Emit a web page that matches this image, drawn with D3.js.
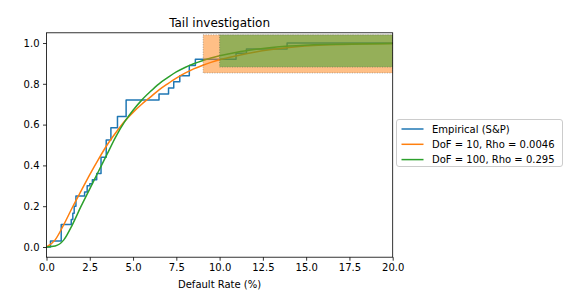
<!DOCTYPE html>
<html><head><meta charset="utf-8">
<script src="https://cdn.jsdelivr.net/npm/d3@7"></script>
<style>body{margin:0;background:#fff}</style>
</head><body><svg id="c" width="570" height="290"></svg>
<script>
// ---- data ----
const empX = [0, 0.23, 0.85, 1.43, 1.52, 1.6, 1.7, 2.2, 2.35, 2.5, 2.65, 2.9, 3.15, 3.45, 3.72, 4.1, 4.6, 6.5, 7.05, 7.35, 7.7, 8.25, 8.6, 10.95, 11.55, 13.9, 20];
const empY = [0, 0.03, 0.11, 0.135, 0.165, 0.2, 0.25, 0.27, 0.3, 0.31, 0.33, 0.36, 0.44, 0.525, 0.585, 0.64, 0.72, 0.75, 0.78, 0.81, 0.84, 0.89, 0.92, 0.95, 0.97, 1.0, 1.0];

const orX = [0, 0.5, 1, 1.5, 2, 2.5, 3, 3.5, 4, 4.5, 5, 5.5, 6, 6.5, 7, 7.5, 8, 8.5, 9, 9.5, 10, 11, 12, 13, 14, 16, 20];
const orY = [0, 0.035, 0.11, 0.195, 0.275, 0.355, 0.43, 0.5, 0.56, 0.615, 0.66, 0.7, 0.735, 0.77, 0.8, 0.828, 0.852, 0.873, 0.89, 0.905, 0.918, 0.938, 0.955, 0.968, 0.978, 0.99, 0.998];

const grX = [0, 0.5, 1, 1.5, 2, 2.5, 3, 3.5, 4, 4.5, 5, 5.5, 6, 6.5, 7, 7.5, 8, 8.5, 9, 9.5, 10, 11, 12, 13, 14, 16, 20];
const grY = [0, 0.005, 0.035, 0.11, 0.2, 0.285, 0.37, 0.455, 0.54, 0.612, 0.67, 0.72, 0.762, 0.8, 0.83, 0.858, 0.88, 0.898, 0.913, 0.926, 0.937, 0.955, 0.968, 0.978, 0.985, 0.993, 0.998];

const seriesNames = ["Empirical (S&P)", "DoF = 10, Rho = 0.0046", "DoF = 100, Rho = 0.295"];
const colors = ["#1f77b4", "#ff7f0e", "#2ca02c"];

const bandX0 = [9.05, 10.0];
const bandX1 = [20, 20];
const bandY0 = [0.853, 0.882];
const bandY1 = [1.04, 1.04];
const bandColors = ["#ff7f0e", "#2ca02c"];

const xTicks = [0, 2.5, 5, 7.5, 10, 12.5, 15, 17.5, 20];
const yTicks = [0, 0.2, 0.4, 0.6, 0.8, 1.0];

// ---- layout ----
const L = 46.5, R = 392.7, T = 32.8, B = 257.2;
const svg = d3.select("#c");
const font = "DejaVu Sans, sans-serif";
const x = d3.scaleLinear().domain([0, 20]).range([L, R]);
const y = d3.scaleLinear().domain([-0.05, 1.05]).range([B, T]);

svg.append("defs").append("clipPath").attr("id", "clip")
  .append("rect").attr("x", L).attr("y", T).attr("width", R - L).attr("height", B - T);

const plot = svg.append("g").attr("clip-path", "url(#clip)");

const series = [
  {xs: empX, ys: empY, curve: d3.curveStepAfter},
  {xs: orX, ys: orY, curve: d3.curveMonotoneX},
  {xs: grX, ys: grY, curve: d3.curveMonotoneX}
];
series.forEach((s, i) => {
  const pts = s.xs.map((v, j) => [v, s.ys[j]]);
  plot.append("path")
    .attr("d", d3.line().x(d => x(d[0])).y(d => y(d[1])).curve(s.curve)(pts))
    .attr("fill", "none").attr("stroke", colors[i]).attr("stroke-width", 1.5)
    .attr("stroke-linejoin", "round");
});

bandX0.forEach((v, i) => {
  plot.append("rect")
    .attr("x", x(v)).attr("y", y(bandY1[i]))
    .attr("width", x(bandX1[i]) - x(v)).attr("height", y(bandY0[i]) - y(bandY1[i]))
    .attr("fill", bandColors[i]).attr("fill-opacity", 0.5)
    .attr("stroke", "#555").attr("stroke-opacity", 0.45).attr("stroke-width", 1)
    .attr("stroke-dasharray", "1,1.5");
});

// axes
const xAxis = svg.append("g").attr("transform", `translate(0,${B})`)
  .call(d3.axisBottom(x).tickValues(xTicks).tickFormat(d3.format(".1f")).tickSizeOuter(0).tickSize(3.5).tickPadding(3.5));
const yAxis = svg.append("g").attr("transform", `translate(${L},0)`)
  .call(d3.axisLeft(y).tickValues(yTicks).tickFormat(d3.format(".1f")).tickSizeOuter(0).tickSize(3.5).tickPadding(3.5));
[xAxis, yAxis].forEach(a => {
  a.select(".domain").remove();
  a.selectAll("line").attr("stroke", "#000").attr("stroke-width", 0.8);
  a.selectAll("text").attr("font-family", font).attr("font-size", 10).attr("fill", "#000");
});

// frame
svg.append("rect").attr("x", L).attr("y", T).attr("width", R - L).attr("height", B - T)
  .attr("fill", "none").attr("stroke", "#000").attr("stroke-width", 0.8);

svg.append("text").attr("x", (L + R) / 2).attr("y", 26.5).attr("text-anchor", "middle")
  .attr("font-family", font).attr("font-size", 12).text("Tail investigation");
svg.append("text").attr("x", (L + R) / 2).attr("y", 288).attr("text-anchor", "middle")
  .attr("font-family", font).attr("font-size", 10).text("Default Rate (%)");

// legend
const lg = svg.append("g");
lg.append("rect").attr("x", 396.5).attr("y", 119.5).attr("width", 166).attr("height", 47)
  .attr("rx", 2.5).attr("fill", "#fff").attr("fill-opacity", 0.8)
  .attr("stroke", "#ccc").attr("stroke-width", 1);
seriesNames.forEach((n, i) => {
  const yy = 129 + i * 15.3;
  lg.append("line").attr("x1", 401.5).attr("x2", 423.5).attr("y1", yy).attr("y2", yy)
    .attr("stroke", colors[i]).attr("stroke-width", 1.5);
  lg.append("text").attr("x", 432).attr("y", yy + 3.6).attr("font-family", font)
    .attr("font-size", 10).text(n);
});
</script></body></html>
